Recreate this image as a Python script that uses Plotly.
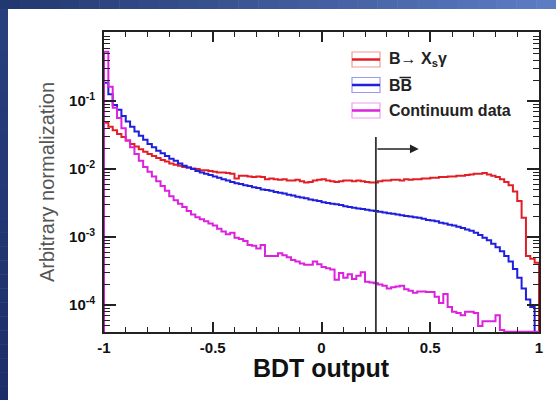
import numpy as np
import plotly.graph_objects as go

# ---------------- data ----------------
BIN_EDGES = np.linspace(-1.0, 1.0, 101)

bsg = [4.79e-2, 4.17e-2, 3.72e-2, 3.27e-2, 2.95e-2, 2.63e-2, 2.34e-2, 2.14e-2, 1.95e-2, 1.80e-2,
       1.66e-2, 1.55e-2, 1.45e-2, 1.35e-2, 1.29e-2, 1.20e-2, 1.15e-2, 1.12e-2, 1.07e-2, 1.05e-2,
       1.02e-2, 1.00e-2, 9.55e-3, 9.55e-3, 9.33e-3, 9.12e-3, 8.91e-3, 8.91e-3, 8.71e-3, 8.51e-3,
       7.24e-3, 7.94e-3, 7.94e-3, 7.76e-3, 7.59e-3, 7.76e-3, 7.59e-3, 7.08e-3, 7.24e-3, 7.08e-3,
       6.92e-3, 7.08e-3, 6.76e-3, 6.76e-3, 6.92e-3, 6.61e-3, 6.31e-3, 6.46e-3, 6.76e-3, 6.92e-3,
       7.08e-3, 6.76e-3, 6.61e-3, 6.46e-3, 6.61e-3, 6.76e-3, 6.76e-3, 6.61e-3, 6.76e-3, 6.61e-3,
       6.46e-3, 6.31e-3, 6.31e-3, 6.61e-3, 6.76e-3, 6.76e-3, 6.92e-3, 6.92e-3, 6.76e-3, 7.08e-3,
       6.92e-3, 7.08e-3, 7.08e-3, 7.24e-3, 7.24e-3, 7.41e-3, 7.41e-3, 7.59e-3, 7.59e-3, 7.76e-3,
       7.76e-3, 7.94e-3, 7.94e-3, 8.13e-3, 8.32e-3, 8.51e-3, 8.51e-3, 8.71e-3, 8.32e-3, 7.94e-3,
       7.59e-3, 7.08e-3, 6.46e-3, 5.75e-3, 4.68e-3, 3.39e-3, 1.91e-3, 5.25e-4, 4.79e-4, 4.17e-4]

bbbar = [1.86e-1, 1.26e-1, 8.71e-2, 7.41e-2, 6.03e-2, 5.01e-2, 4.17e-2, 3.55e-2, 3.09e-2, 2.69e-2,
         2.34e-2, 2.09e-2, 1.86e-2, 1.70e-2, 1.55e-2, 1.41e-2, 1.32e-2, 1.20e-2, 1.12e-2, 1.05e-2,
         1.00e-2, 9.33e-3, 8.91e-3, 8.51e-3, 8.13e-3, 7.76e-3, 7.41e-3, 7.08e-3, 6.76e-3, 6.46e-3,
         6.17e-3, 6.03e-3, 5.75e-3, 5.62e-3, 5.37e-3, 5.25e-3, 5.01e-3, 4.90e-3, 4.79e-3, 4.57e-3,
         4.47e-3, 4.37e-3, 4.17e-3, 4.07e-3, 3.89e-3, 3.80e-3, 3.72e-3, 3.55e-3, 3.47e-3, 3.39e-3,
         3.24e-3, 3.16e-3, 3.09e-3, 3.02e-3, 2.95e-3, 2.82e-3, 2.75e-3, 2.69e-3, 2.63e-3, 2.57e-3,
         2.51e-3, 2.45e-3, 2.40e-3, 2.34e-3, 2.29e-3, 2.24e-3, 2.19e-3, 2.14e-3, 2.09e-3, 2.04e-3,
         2.00e-3, 1.95e-3, 1.91e-3, 1.86e-3, 1.78e-3, 1.74e-3, 1.70e-3, 1.62e-3, 1.58e-3, 1.51e-3,
         1.48e-3, 1.41e-3, 1.35e-3, 1.29e-3, 1.23e-3, 1.15e-3, 1.07e-3, 9.77e-4, 8.91e-4, 7.94e-4,
         7.08e-4, 6.17e-4, 5.25e-4, 4.37e-4, 3.39e-4, 2.51e-4, 1.74e-4, 1.20e-4, 9.33e-5, 1.5e-5]

continuum = [5.31e-1, 1.62e-1, 7.94e-2, 5.62e-2, 3.98e-2, 2.63e-2, 2.09e-2, 1.66e-2, 1.32e-2, 1.07e-2,
             9.12e-3, 7.76e-3, 6.61e-3, 5.62e-3, 4.79e-3, 3.98e-3, 3.47e-3, 3.09e-3, 2.75e-3, 2.40e-3,
             2.14e-3, 1.95e-3, 1.82e-3, 1.70e-3, 1.58e-3, 1.48e-3, 1.32e-3, 1.20e-3, 1.10e-3, 1.15e-3,
             9.77e-4, 9.33e-4, 8.71e-4, 7.59e-4, 7.41e-4, 6.76e-4, 7.59e-4, 5.25e-4, 5.25e-4, 5.25e-4,
             5.75e-4, 5.37e-4, 5.01e-4, 4.57e-4, 4.37e-4, 4.07e-4, 3.89e-4, 3.89e-4, 4.37e-4, 3.98e-4,
             3.63e-4, 3.47e-4, 3.31e-4, 2.34e-4, 2.95e-4, 2.51e-4, 2.82e-4, 2.40e-4, 2.69e-4, 3.02e-4,
             2.19e-4, 2.14e-4, 2.09e-4, 2.00e-4, 1.91e-4, 1.74e-4, 1.82e-4, 1.86e-4, 1.91e-4, 1.70e-4,
             1.62e-4, 1.51e-4, 1.58e-4, 1.58e-4, 1.55e-4, 1.55e-4, 1.32e-4, 1.07e-4, 1.45e-4, 9.33e-5,
             7.94e-5, 7.59e-5, 7.08e-5, 7.94e-5, 7.94e-5, 7.59e-5, 4.90e-5, 5.75e-5, 5.75e-5, 5.75e-5,
             7.08e-5, 4.27e-5, 4.05e-5, 4.05e-5, 4.05e-5, 4.05e-5, 4.05e-5, 4.05e-5, 4.05e-5, 4.05e-5]

LEGEND_TEXT = ["B\u2192 <b>X</b><sub>s</sub>\u03b3", "BB", "Continuum data"]
CUT_VALUE = 0.25
X_TICKS = [-1, -0.5, 0, 0.5, 1]
X_TICK_TEXT = ["-1", "-0.5", "0", "0.5", "1"]
Y_TICKS = [1e-4, 1e-3, 1e-2, 1e-1]
Y_TICK_TEXT = ["10<sup>-4</sup>", "10<sup>-3</sup>", "10<sup>-2</sup>", "10<sup>-1</sup>"]

# ---------------- styling ----------------
W, H = 556, 400
L_, R_, T_, B_ = 104, 539, 32, 332      # plot area in pixels
Y_MIN, Y_MAX = 4.0e-5, 1.035
FLOOR = 1e-7
COLORS = ["#e21f26", "#1f1fdc", "#dd22dd"]
LIGHT = ["#f29a9a", "#9a9af2", "#f29af2"]
FONT = "Liberation Sans, Arial, sans-serif"


def px2paper_x(px):
    return (px - L_) / (R_ - L_)


def px2paper_y(py):
    return (B_ - py) / (B_ - T_)


def step_xy(values):
    xs = [BIN_EDGES[0]] + list(BIN_EDGES[:-1]) + [BIN_EDGES[-1], BIN_EDGES[-1]]
    ys = [FLOOR] + list(values) + [values[-1], FLOOR]
    return xs, ys


fig = go.Figure()
for vals, col in zip([bsg, bbbar, continuum], COLORS):
    xs, ys = step_xy(vals)
    fig.add_trace(go.Scatter(x=xs, y=ys, mode="lines", line=dict(color=col, width=2, shape="hv"),
                             showlegend=False, hoverinfo="skip"))

# cut line
fig.add_trace(go.Scatter(x=[CUT_VALUE, CUT_VALUE], y=[2.95e-2, FLOOR], mode="lines",
                         line=dict(color="#333333", width=1.8), showlegend=False, hoverinfo="skip"))
arrow_y = np.log10(1.97e-2)
fig.add_annotation(x=0.447, y=arrow_y, ax=CUT_VALUE, ay=arrow_y, xref="x", yref="y",
                   axref="x", ayref="y", text="", showarrow=True, arrowhead=2, arrowsize=1.1,
                   arrowwidth=1.6, arrowcolor="#222222")

shapes = []


def lerp(c1, c2, t):
    return "rgb(%d,%d,%d)" % tuple(int(round(a + (b - a) * t)) for a, b in zip(c1, c2))


nseg = 28
for i in range(nseg):
    x0 = i * W / nseg
    x1 = min(W, (i + 1) * W / nseg + 0.5)
    shapes.append(dict(type="rect", xref="paper", yref="paper", layer="above",
                       x0=px2paper_x(x0), x1=px2paper_x(x1), y0=px2paper_y(9), y1=px2paper_y(0),
                       line=dict(width=0), fillcolor=lerp((34, 56, 112), (92, 124, 196), i / (nseg - 1))))
for i in range(nseg):
    y0 = 9 + i * (H - 9) / nseg
    y1 = min(H, 9 + (i + 1) * (H - 9) / nseg + 0.5)
    shapes.append(dict(type="rect", xref="paper", yref="paper", layer="above",
                       x0=px2paper_x(0), x1=px2paper_x(8), y0=px2paper_y(y1), y1=px2paper_y(y0),
                       line=dict(width=0), fillcolor=lerp((40, 64, 126), (28, 46, 104), i / (nseg - 1))))

# legend
leg_y = [59.5, 85, 110.5]
for cy, col, lcol in zip(leg_y, COLORS, LIGHT):
    shapes.append(dict(type="rect", xref="paper", yref="paper",
                       x0=px2paper_x(352), x1=px2paper_x(380),
                       y0=px2paper_y(cy + 7.5), y1=px2paper_y(cy - 7.5),
                       line=dict(color=lcol, width=1.2), fillcolor="white"))
    shapes.append(dict(type="line", xref="paper", yref="paper",
                       x0=px2paper_x(352), x1=px2paper_x(380),
                       y0=px2paper_y(cy), y1=px2paper_y(cy), line=dict(color=col, width=2.5)))
# overline of the B-bar
shapes.append(dict(type="line", xref="paper", yref="paper",
                   x0=px2paper_x(399.5), x1=px2paper_x(411), y0=px2paper_y(77.5), y1=px2paper_y(77.5),
                   line=dict(color="#222222", width=1.5)))

for cy, t in zip(leg_y, LEGEND_TEXT):
    fig.add_annotation(x=px2paper_x(387), y=px2paper_y(cy), xref="paper", yref="paper",
                       text=t, showarrow=False, xanchor="left", yanchor="middle",
                       font=dict(family=FONT, size=16, color="#222222", weight="bold"))

# axis titles
fig.add_annotation(x=0.5, y=px2paper_y(368), xref="paper", yref="paper", text="BDT output",
                   showarrow=False, xanchor="center", yanchor="middle",
                   font=dict(family=FONT, size=25, color="#111111", weight="bold"))
fig.add_annotation(x=px2paper_x(47), y=px2paper_y(182), xref="paper", yref="paper",
                   text="Arbitrary normalization", textangle=-90, showarrow=False,
                   xanchor="center", yanchor="middle",
                   font=dict(family=FONT, size=20, color="#555555"))

minor_y = [k * 10.0 ** e for e in range(-5, 1) for k in range(2, 10) if Y_MIN <= k * 10.0 ** e <= Y_MAX]

fig.update_layout(
    width=W, height=H, margin=dict(l=L_, r=W - R_, t=T_, b=H - B_),
    paper_bgcolor="white", plot_bgcolor="white", shapes=shapes,
    xaxis=dict(range=[-1, 1], tickmode="array", tickvals=X_TICKS, ticktext=X_TICK_TEXT,
               ticks="inside", ticklen=10, tickwidth=1.5, tickcolor="#222",
               minor=dict(dtick=0.1, tick0=-1, ticks="inside", ticklen=5, tickwidth=1.3, tickcolor="#222"),
               showline=True, linecolor="#222", linewidth=1.8, mirror="ticks", showgrid=False,
               zeroline=False, ticklabelstandoff=1,
               tickfont=dict(family=FONT, size=15, color="#111", weight="bold")),
    yaxis=dict(type="log", range=[np.log10(Y_MIN), np.log10(Y_MAX)], tickmode="array",
               tickvals=Y_TICKS, ticktext=Y_TICK_TEXT, ticks="inside", ticklen=12, tickwidth=1.5,
               tickcolor="#222",
               minor=dict(tickmode="array", tickvals=minor_y, ticks="inside", ticklen=6,
                          tickwidth=1.3, tickcolor="#222"),
               showline=True, linecolor="#222", linewidth=1.8, mirror="ticks", showgrid=False,
               zeroline=False, ticklabelstandoff=4,
               tickfont=dict(family=FONT, size=15, color="#111", weight="bold")),
)

fig.write_html("out.html")
